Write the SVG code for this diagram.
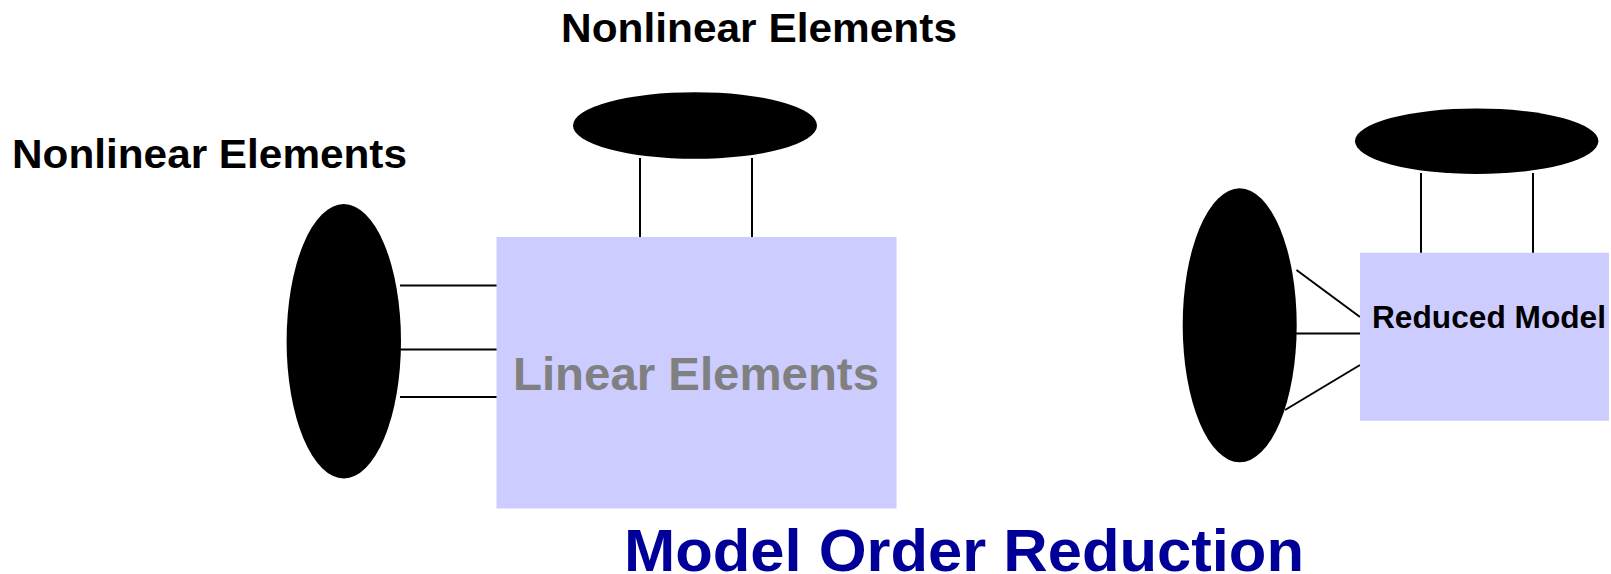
<svg xmlns="http://www.w3.org/2000/svg" width="1611" height="574" viewBox="0 0 1611 574">
<style>
.blob{fill:#000000}
.box{fill:#ccccff}
.wire{stroke:#000000;stroke-width:2;fill:none}
.t{font-family:"Liberation Sans",Arial,sans-serif;font-weight:bold}
</style>
<rect width="1611" height="574" fill="#ffffff"/>
<g id="label-top"><text class="t" x="561" y="42" font-size="41" textLength="396" lengthAdjust="spacingAndGlyphs">Nonlinear Elements</text></g>
<g id="label-left"><text class="t" x="12" y="168" font-size="41" textLength="395" lengthAdjust="spacingAndGlyphs">Nonlinear Elements</text></g>
<g id="connectors">
<line class="wire" x1="640" y1="158" x2="640" y2="237"/>
<line class="wire" x1="752" y1="158" x2="752" y2="237"/>
<line class="wire" x1="400" y1="285.5" x2="497" y2="285.5"/>
<line class="wire" x1="400" y1="349.5" x2="497" y2="349.5"/>
<line class="wire" x1="400" y1="397" x2="497" y2="397"/>
<line class="wire" x1="1421" y1="173" x2="1421" y2="253"/>
<line class="wire" x1="1533" y1="173" x2="1533" y2="253"/>
<line class="wire" x1="1296.5" y1="270" x2="1360" y2="317"/>
<line class="wire" x1="1296" y1="333.5" x2="1360" y2="333.5"/>
<line class="wire" x1="1285" y1="410" x2="1360" y2="365"/>
</g>
<g id="nl-top-left"><ellipse class="blob" cx="695" cy="125.5" rx="122" ry="33.3"/></g>
<g id="nl-left"><ellipse class="blob" cx="343.8" cy="341.2" rx="57.2" ry="137.2"/></g>
<g id="linear"><rect class="box" x="496.5" y="237" width="400" height="271.5"/>
<text class="t" x="513" y="390" font-size="47" fill="#808080" textLength="366" lengthAdjust="spacingAndGlyphs">Linear Elements</text></g>
<g id="nl-top-right"><ellipse class="blob" cx="1476.7" cy="141.2" rx="121.7" ry="32.8"/></g>
<g id="nl-right"><ellipse class="blob" cx="1239.7" cy="325.3" rx="57" ry="137"/></g>
<g id="reduced"><rect class="box" x="1360" y="252.7" width="249" height="168"/>
<text class="t" x="1372" y="327.5" font-size="31.5" fill="#000000" textLength="234" lengthAdjust="spacingAndGlyphs">Reduced Model</text></g>
<g id="title"><text class="t" x="624" y="571" font-size="60" fill="#000099" textLength="680" lengthAdjust="spacingAndGlyphs">Model Order Reduction</text></g>
</svg>
